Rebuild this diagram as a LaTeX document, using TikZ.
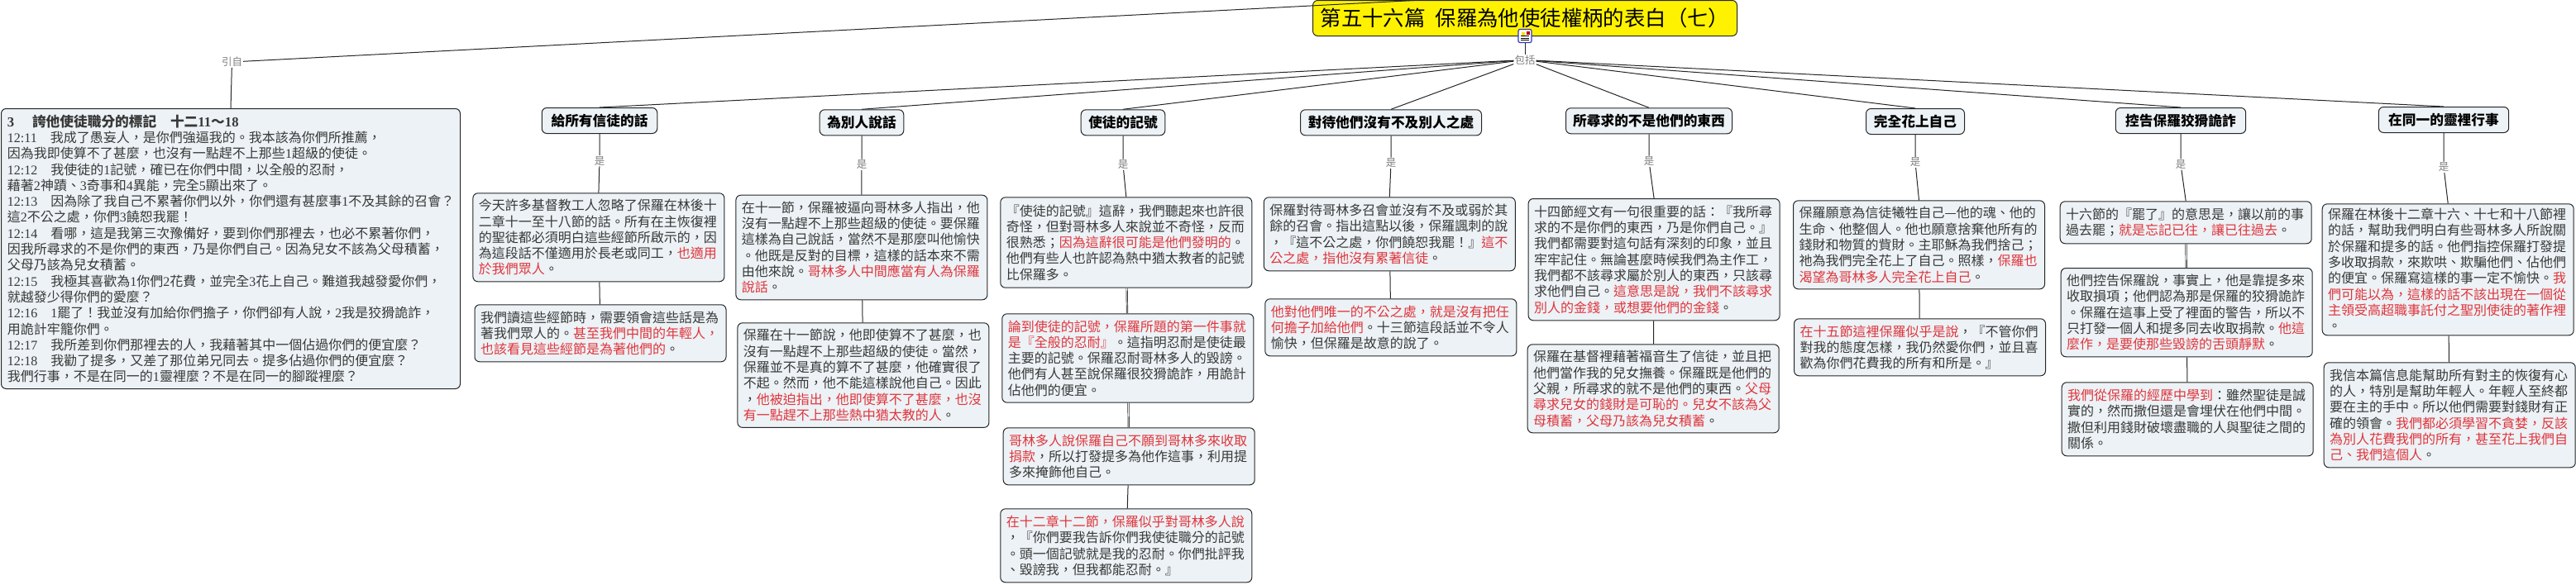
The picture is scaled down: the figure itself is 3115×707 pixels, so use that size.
\documentclass[tikz,border=0pt]{standalone}
\usepackage{fontspec}
\setmainfont{Noto Sans CJK TC}
\newfontfamily\latfont{Liberation Serif}
\usetikzlibrary{positioning}
\definecolor{boxfill}{HTML}{ECF2F5}
\definecolor{notered}{HTML}{E0343C}
\definecolor{notetext}{HTML}{383838}
\definecolor{edgegray}{HTML}{262626}
\newcommand{\hlred}[1]{\textcolor{notered}{#1}}
\newcommand{\dg}[1]{{\latfont #1}}
\tikzset{
    note/.style={draw=edgegray, fill=boxfill, line width=1pt, rounded corners=6pt, anchor=north west,
      inner xsep=7pt, inner ysep=0pt, text width=290pt, align=left, text=notetext,
      font=\fontsize{16pt}{19.3pt}\selectfont},
    head/.style={draw=edgegray, fill=boxfill, line width=1pt, rounded corners=6pt, anchor=north,
      inner sep=0pt, minimum height=31pt, text=black, font=\fontsize{16.7pt}{19pt}\selectfont\bfseries},
    tag/.style={text=gray, inner sep=1pt, font=\fontsize{12.5pt}{14pt}\selectfont},
    link/.style={draw=edgegray, line width=1pt},
    wide link/.style={draw=edgegray, line width=.7pt, double=boxfill, double distance=.8pt},
}
\begin{document}
\begin{tikzpicture}[x=1pt,y=-1pt]
    \useasboundingbox (0,0) rectangle (3115,707);

    % Title and its icon.
    \path (1587,0) node[head, anchor=north west, fill=yellow, minimum width=513pt, minimum height=43pt,
      font=\fontsize{25.4pt}{28pt}\selectfont] (title) {第五十六篇\kern 12pt 保羅為他使徒權柄的表白（七）};
    \path (1844,43.5) node[draw=blue!60!gray, fill=white, line width=1.2pt, rounded corners=2pt, minimum size=16pt, inner sep=0pt] (icon) {};
    \fill[yellow!80!orange] ([shift={(-4.5,-5)}]icon.center) rectangle +(4,5);
    \fill[red!70!black] ([shift={(1.5,-6)}]icon.center) rectangle +(4,4);
    \foreach \dy in {0,2.5,5}
      \draw[black, line width=.9pt] ([shift={(-5,\dy)}]icon.center) -- +(10,0);

    % Tags under the title.
    \path (280.5,75) node[tag] (cited) {引自};
    \path (1844,72.5) node[tag] (incl) {包括};
    \draw[link] (title.170) -- (cited);
    \draw[link] (icon) -- (incl);

    % Scripture box.
    \path (1,131) node[note, text width=540pt, inner xsep=7.5pt, minimum height=339pt] (verses) {%
      {\fontsize{16.7pt}{19.3pt}\selectfont\bfseries\dg{\bfseries 3}\kern 5pt　誇他使徒職分的標記　十二\dg{\bfseries 11}～\dg{\bfseries 18}}\\
      \dg{12:11}　我成了愚妄人，是你們強逼我的。我本該為你們所推薦，\\
      因為我即使算不了甚麼，也沒有一點趕不上那些\dg{1}超級的使徒。\\
      \dg{12:12}　我使徒的\dg{1}記號，確已在你們中間，以全般的忍耐，\\
      藉著\dg{2}神蹟、\dg{3}奇事和\dg{4}異能，完全\dg{5}顯出來了。\\
      \dg{12:13}　因為除了我自己不累著你們以外，你們還有甚麼事\dg{1}不及其餘的召會？\\
      這\dg{2}不公之處，你們\dg{3}饒恕我罷！\\
      \dg{12:14}　看哪，這是我第三次豫備好，要到你們那裡去，也必不累著你們，\\
      因我所尋求的不是你們的東西，乃是你們自己。因為兒女不該為父母積蓄，\\
      父母乃該為兒女積蓄。\\
      \dg{12:15}　我極其喜歡為\dg{1}你們\dg{2}花費，並完全\dg{3}花上自己。難道我越發愛你們，\\
      就越發少得你們的愛麼？\\
      \dg{12:16}　\dg{1}罷了！我並沒有加給你們擔子，你們卻有人說，\dg{2}我是狡猾詭詐，\\
      用詭計牢籠你們。\\
      \dg{12:17}　我所差到你們那裡去的人，我藉著其中一個佔過你們的便宜麼？\\
      \dg{12:18}　我勸了提多，又差了那位弟兄同去。提多佔過你們的便宜麼？\\
      我們行事，不是在同一的\dg{1}靈裡麼？不是在同一的腳蹤裡麼？};
    \draw[link] (cited) -- (verses.north -| 279,0);

    % Heads.
    \path (725,130)    node[head, minimum width=139.5pt] (hA) {給所有信徒的話};
    \path (1042,132.3) node[head, minimum width=101.6pt] (hB) {為別人說話};
    \path (1358,132.3) node[head, minimum width=101.6pt] (hC) {使徒的記號};
    \path (1682,132.3) node[head, minimum width=219pt]   (hD) {對待他們沒有不及別人之處};
    \path (1994,130.3) node[head, minimum width=201pt]   (hE) {所尋求的不是他們的東西};
    \path (2316,131)   node[head, minimum width=119pt]   (hF) {完全花上自己};
    \path (2637,130)   node[head, minimum width=157.4pt] (hG) {控告保羅狡猾詭詐};
    \path (2955,129)   node[head, minimum width=157.4pt] (hH) {在同一的靈裡行事};
    \foreach \h in {hA,hB,hC,hD,hE,hF,hG,hH}
      \draw[link] (incl) -- (\h.north);

    % Notes, one column for each head.
    \path (571.4,233.3) node[note, minimum height=107pt] (a1) {%
      今天許多基督教工人忽略了保羅在林後十\\
      二章十一至十八節的話。所有在主恢復裡\\
      的聖徒都必須明白這些經節所啟示的，因\\
      為這段話不僅適用於長老或同工，\hlred{也適用}\\
      \hlred{於我們眾人}。};
    \path (573.5,368.3) node[note, minimum height=69pt] (a2) {%
      我們讀這些經節時，需要領會這些話是為\\
      著我們眾人的。\hlred{甚至我們中間的年輕人，}\\
      \hlred{也該看見這些經節是為著他們的}。};

    \path (889.4,235.7) node[note, minimum height=126.6pt] (b1) {%
      在十一節，保羅被逼向哥林多人指出，他\\
      沒有一點趕不上那些超級的使徒。要保羅\\
      這樣為自己說話，當然不是那麼叫他愉快\\
      。他既是反對的目標，這樣的話本來不需\\
      由他來說。\hlred{哥林多人中間應當有人為保羅}\\
      \hlred{說話}。};
    \path (891.4,390.3) node[note, minimum height=126.6pt] (b2) {%
      保羅在十一節說，他即使算不了甚麼，也\\
      沒有一點趕不上那些超級的使徒。當然，\\
      保羅並不是真的算不了甚麼，他確實很了\\
      不起。然而，他不能這樣說他自己。因此\\
      ，\hlred{他被迫指出，他即使算不了甚麼，也沒}\\
      \hlred{有一點趕不上那些熱中猶太教的人}。};

    \path (1209.3,238.3) node[note, minimum height=109.4pt] (c1) {%
      『使徒的記號』這辭，我們聽起來也許很\\
      奇怪，但對哥林多人來說並不奇怪，反而\\
      很熟悉；\hlred{因為這辭很可能是他們發明的}。\\
      他們有些人也許認為熱中猶太教者的記號\\
      比保羅多。};
    \path (1211.3,379.3) node[note, minimum height=107.4pt] (c2) {%
      \hlred{論到使徒的記號，保羅所題的第一件事就}\\
      \hlred{是『全般的忍耐』}。這指明忍耐是使徒最\\
      主要的記號。保羅忍耐哥林多人的毀謗。\\
      他們有人甚至說保羅很狡猾詭詐，用詭計\\
      佔他們的便宜。};
    \path (1212.7,517.3) node[note, minimum height=69pt] (c3) {%
      \hlred{哥林多人說保羅自己不願到哥林多來收取}\\
      \hlred{捐款}，所以打發提多為他作這事，利用提\\
      多來掩飾他自己。};
    \path (1209.3,615.3) node[note, minimum height=89pt] (c4) {%
      \hlred{在十二章十二節，保羅似乎對哥林多人說}\\
      ，『你們要我告訴你們我使徒職分的記號\\
      。頭一個記號就是我的忍耐。你們批評我\\
      、毀謗我，但我都能忍耐。』};

    \path (1527.8,238.3) node[note, minimum height=89pt] (d1) {%
      保羅對待哥林多召會並沒有不及或弱於其\\
      餘的召會。指出這點以後，保羅諷刺的說\\
      ，『這不公之處，你們饒恕我罷！』\hlred{這不}\\
      \hlred{公之處，指他沒有累著信徒}。};
    \path (1529.3,361.3) node[note, minimum height=69pt] (d2) {%
      \hlred{他對他們唯一的不公之處，就是沒有把任}\\
      \hlred{何擔子加給他們}。十三節這段話並不令人\\
      愉快，但保羅是故意的說了。};

    \path (1847.6,240) node[note, minimum height=147.3pt] (e1) {%
      十四節經文有一句很重要的話：『我所尋\\
      求的不是你們的東西，乃是你們自己。』\\
      我們都需要對這句話有深刻的印象，並且\\
      牢牢記住。無論甚麼時候我們為主作工，\\
      我們都不該尋求屬於別人的東西，只該尋\\
      求他們自己。\hlred{這意思是說，我們不該尋求}\\
      \hlred{別人的金錢，或想要他們的金錢}。};
    \path (1846.7,416.3) node[note, minimum height=107pt] (e2) {%
      保羅在基督裡藉著福音生了信徒，並且把\\
      他們當作我的兒女撫養。保羅既是他們的\\
      父親，所尋求的就不是他們的東西。\hlred{父母}\\
      \hlred{尋求兒女的錢財是可恥的。兒女不該為父}\\
      \hlred{母積蓄，父母乃該為兒女積蓄}。};

    \path (2168,242.3) node[note, minimum height=107pt] (f1) {%
      保羅願意為信徒犧牲自己—他的魂、他的\\
      生命、他整個人。他也願意捨棄他所有的\\
      錢財和物質的貲財。主耶穌為我們捨己；\\
      祂為我們完全花上了自己。照樣，\hlred{保羅也}\\
      \hlred{渴望為哥林多人完全花上自己}。};
    \path (2169,385.3) node[note, minimum height=69pt] (f2) {%
      \hlred{在十五節這裡保羅似乎是說}，『不管你們\\
      對我的態度怎樣，我仍然愛你們，並且喜\\
      歡為你們花費我的所有和所是。』};

    \path (2490.7,243.3) node[note, minimum height=51pt] (g1) {%
      十六節的『罷了』的意思是，讓以前的事\\
      過去罷；\hlred{就是忘記已往，讓已往過去}。};
    \path (2491.7,324) node[note, minimum height=107.3pt] (g2) {%
      他們控告保羅說，事實上，他是靠提多來\\
      收取損項；他們認為那是保羅的狡猾詭詐\\
      。保羅在這事上受了裡面的警告，所以不\\
      只打發一個人和提多同去收取捐款。\hlred{他這}\\
      \hlred{麼作，是要使那些毀謗的舌頭靜默}。};
    \path (2492.7,462.3) node[note, minimum height=89pt] (g3) {%
      \hlred{我們從保羅的經歷中學到}：雖然聖徒是誠\\
      實的，然而撒但還是會埋伏在他們中間。\\
      撒但利用錢財破壞盡職的人與聖徒之間的\\
      關係。};

    \path (2807.7,246.3) node[note, minimum height=159pt] (h1) {%
      保羅在林後十二章十六、十七和十八節裡\\
      的話，幫助我們明白有些哥林多人所說關\\
      於保羅和提多的話。他們指控保羅打發提\\
      多收取捐款，來欺哄、欺騙他們、佔他們\\
      的便宜。保羅寫這樣的事一定不愉快。\hlred{我}\\
      \hlred{們可能以為，這樣的話不該出現在一個從}\\
      \hlred{主領受高超職事託付之聖別使徒的著作裡}\\
      。};
    \path (2809.7,438.3) node[note, minimum height=127pt] (h2) {%
      我信本篇信息能幫助所有對主的恢復有心\\
      的人，特別是幫助年輕人。年輕人至終都\\
      要在主的手中。所以他們需要對錢財有正\\
      確的領會。\hlred{我們都必須學習不貪婪，反該}\\
      \hlred{為別人花費我們的所有，甚至花上我們自}\\
      \hlred{己、我們這個人}。};

    % Head to first note, through a tag.
    \path (725,194.7)  node[tag] (isA) {是};
    \path (1042,199.3) node[tag] (isB) {是};
    \path (1358,199.3) node[tag] (isC) {是};
    \path (1682,197.3) node[tag] (isD) {是};
    \path (1994,195.3) node[tag] (isE) {是};
    \path (2316,196.5) node[tag] (isF) {是};
    \path (2637,199)   node[tag] (isG) {是};
    \path (2955,202.3) node[tag] (isH) {是};
    \foreach \h/\t/\n in {hA/isA/a1,hB/isB/b1,hC/isC/c1,hD/isD/d1,hE/isE/e1,hF/isF/f1,hG/isG/g1,hH/isH/h1}
      \draw[link] (\h.south) -- (\t) -- (\n.north);

    % Note to note.
    \draw[link] (a1) -- (a2);
    \draw[link] (b1) -- (b2);
    \draw[wide link] (c1) -- (c2);
    \draw[wide link] (c2) -- (c3);
    \draw[link] (c3) -- (c4);
    \draw[link] (d1) -- (d2);
    \draw[link] (e1) -- (e2);
    \draw[link] (f1) -- (f2);
    \draw[wide link] (g1) -- (g2);
    \draw[link] (g2) -- (g3);
    \draw[link] (h1) -- (h2);
\end{tikzpicture}
\end{document}
